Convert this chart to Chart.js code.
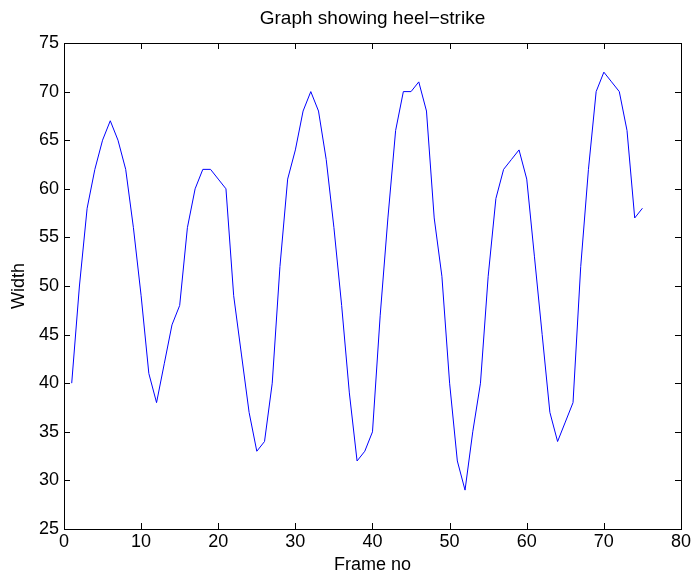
<!DOCTYPE html>
<html>
<head>
<meta charset="utf-8">
<script src="https://cdn.jsdelivr.net/npm/chart.js@4/dist/chart.umd.min.js"></script>
<style>
  html, body { margin: 0; padding: 0; background: #fff; }
  #wrap { width: 693px; height: 576px; }
</style>
</head>
<body>
<div id="wrap"><canvas id="chart" width="693" height="576"></canvas></div>
<script>
// frame numbers and measured width per frame
const frames = [
  1, 2, 3, 4, 5, 6, 7, 8, 9, 10,
  11, 12, 13, 14, 15, 16, 17, 18, 19, 20,
  21, 22, 23, 24, 25, 26, 27, 28, 29, 30,
  31, 32, 33, 34, 35, 36, 37, 38, 39, 40,
  41, 42, 43, 44, 45, 46, 47, 48, 49, 50,
  51, 52, 53, 54, 55, 56, 57, 58, 59, 60,
  61, 62, 63, 64, 65, 66, 67, 68, 69, 70,
  71, 72, 73, 74, 75
];
const widths = [
  40, 50, 58, 62, 65, 67, 65, 62, 56, 49,
  41, 38, 42, 46, 48, 56, 60, 62, 62, 61,
  60, 49, 43, 37, 33, 34, 40, 52, 61, 64,
  68, 70, 68, 63, 56, 48, 39, 32, 33, 35,
  47, 57, 66, 70, 70, 71, 68, 57, 51, 40,
  32, 29, 35, 40, 51, 59, 62, 63, 64, 61,
  53, 45, 37, 34, 36, 38, 52, 62, 70, 72,
  71, 70, 66, 57, 58
];
const xTicks = [0, 10, 20, 30, 40, 50, 60, 70, 80];
const yTicks = [25, 30, 35, 40, 45, 50, 55, 60, 65, 70, 75];

Chart.defaults.font.family = "'Liberation Sans', Arial, Helvetica, sans-serif";
Chart.defaults.font.size = 18;
Chart.defaults.color = "#000";

// matlab style box with inward ticks on all sides
const boxTicks = {
  id: "boxTicks",
  afterDraw(chart) {
    const { ctx, chartArea: a, scales } = chart;
    const len = 6;
    ctx.save();
    ctx.strokeStyle = "#000";
    ctx.lineWidth = 1;
    ctx.beginPath();
    xTicks.forEach(v => {
      const x = Math.round(scales.x.getPixelForValue(v)) + 0.5;
      ctx.moveTo(x, a.bottom); ctx.lineTo(x, a.bottom - len);
      ctx.moveTo(x, a.top); ctx.lineTo(x, a.top + len);
    });
    yTicks.forEach(v => {
      const y = Math.round(scales.y.getPixelForValue(v)) + 0.5;
      ctx.moveTo(a.left, y); ctx.lineTo(a.left + len, y);
      ctx.moveTo(a.right, y); ctx.lineTo(a.right - len, y);
    });
    ctx.stroke();
    ctx.strokeRect(Math.round(a.left) + 0.5, Math.round(a.top) + 0.5,
      Math.round(a.right - a.left), Math.round(a.bottom - a.top));
    ctx.restore();
  }
};

new Chart(document.getElementById("chart"), {
  type: "line",
  data: {
    datasets: [{
      data: frames.map((f, i) => ({ x: f, y: widths[i] })),
      borderColor: "#0000ff",
      borderWidth: 1,
      pointRadius: 0,
      tension: 0,
      fill: false
    }]
  },
  options: {
    responsive: false,
    animation: false,
    layout: { padding: { left: 0, right: 12, top: 0, bottom: 0 } },
    plugins: {
      legend: { display: false },
      tooltip: { enabled: false }
    },
    scales: {
      x: {
        type: "linear",
        min: 0,
        max: 80,
        afterBuildTicks: s => { s.ticks = xTicks.map(v => ({ value: v })); },
        afterFit: s => { s.height = 47; },
        grid: { display: false, drawTicks: false },
        border: { display: false },
        ticks: { padding: 2, maxRotation: 0 },
        title: { display: true, text: "Frame no", padding: { top: 0, bottom: 0 } }
      },
      // top axis only carries the title so it centres over the plot box
      top: {
        type: "linear",
        position: "top",
        min: 0,
        max: 80,
        afterFit: s => { s.height = 43; },
        grid: { display: false, drawTicks: false },
        border: { display: false },
        ticks: { display: false },
        title: {
          display: true,
          text: "Graph showing heel\u2212strike",
          font: { size: 19 },
          padding: { top: 7, bottom: 0 }
        }
      },
      y: {
        min: 25,
        max: 75,
        afterBuildTicks: s => { s.ticks = yTicks.map(v => ({ value: v })); },
        afterFit: s => { s.width = 64; },
        grid: { display: false, drawTicks: false },
        border: { display: false },
        ticks: { padding: 5 },
        title: { display: true, text: "Width", padding: { top: 8, bottom: 0 } }
      }
    }
  },
  plugins: [boxTicks]
});
</script>
</body>
</html>
